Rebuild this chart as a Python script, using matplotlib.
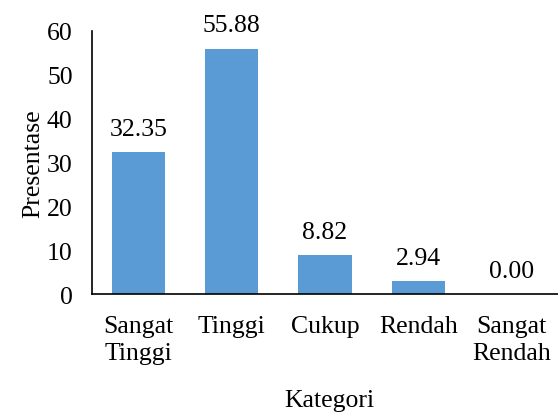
import matplotlib.pyplot as plt

categories = ["Sangat\nTinggi", "Tinggi", "Cukup", "Rendah", "Sangat\nRendah"]
values = [32.35, 55.88, 8.82, 2.94, 0.00]
yticks = [0, 10, 20, 30, 40, 50, 60]

plt.rcParams['font.family'] = ['Liberation Serif', 'DejaVu Serif']
fs = 18.5

fig = plt.figure(figsize=(5.58, 4.14), dpi=100)
ax = fig.add_axes([0.165, 0.287, 0.835, 0.636])

x = range(len(categories))
bars = ax.bar(x, values, width=0.57, color='#5B9BD5')
for b, v in zip(bars, values):
    ax.annotate(f"{v:.2f}", (b.get_x() + b.get_width() / 2, v),
                xytext=(0, 9), textcoords='offset points',
                ha='center', va='bottom', fontsize=fs)

ax.set_xlim(-0.5, len(categories) - 0.5)
ax.set_ylim(0, 60)
ax.set_yticks(yticks)
ax.set_xticks(list(x))
ax.set_xticklabels(categories, fontsize=fs, linespacing=1.3)
ax.tick_params(axis='y', length=0, pad=14, labelsize=fs)
ax.tick_params(axis='x', length=0, pad=15)
for s in ['top', 'right']:
    ax.spines[s].set_visible(False)
ax.spines['left'].set_linewidth(1.2)
ax.spines['bottom'].set_linewidth(1.2)
ax.set_ylabel("Presentase", fontsize=fs, labelpad=2)
fig.text(0.59, 0.016, "Kategori", fontsize=fs, ha='center', va='baseline')

fig.savefig("out.png", dpi=100)
